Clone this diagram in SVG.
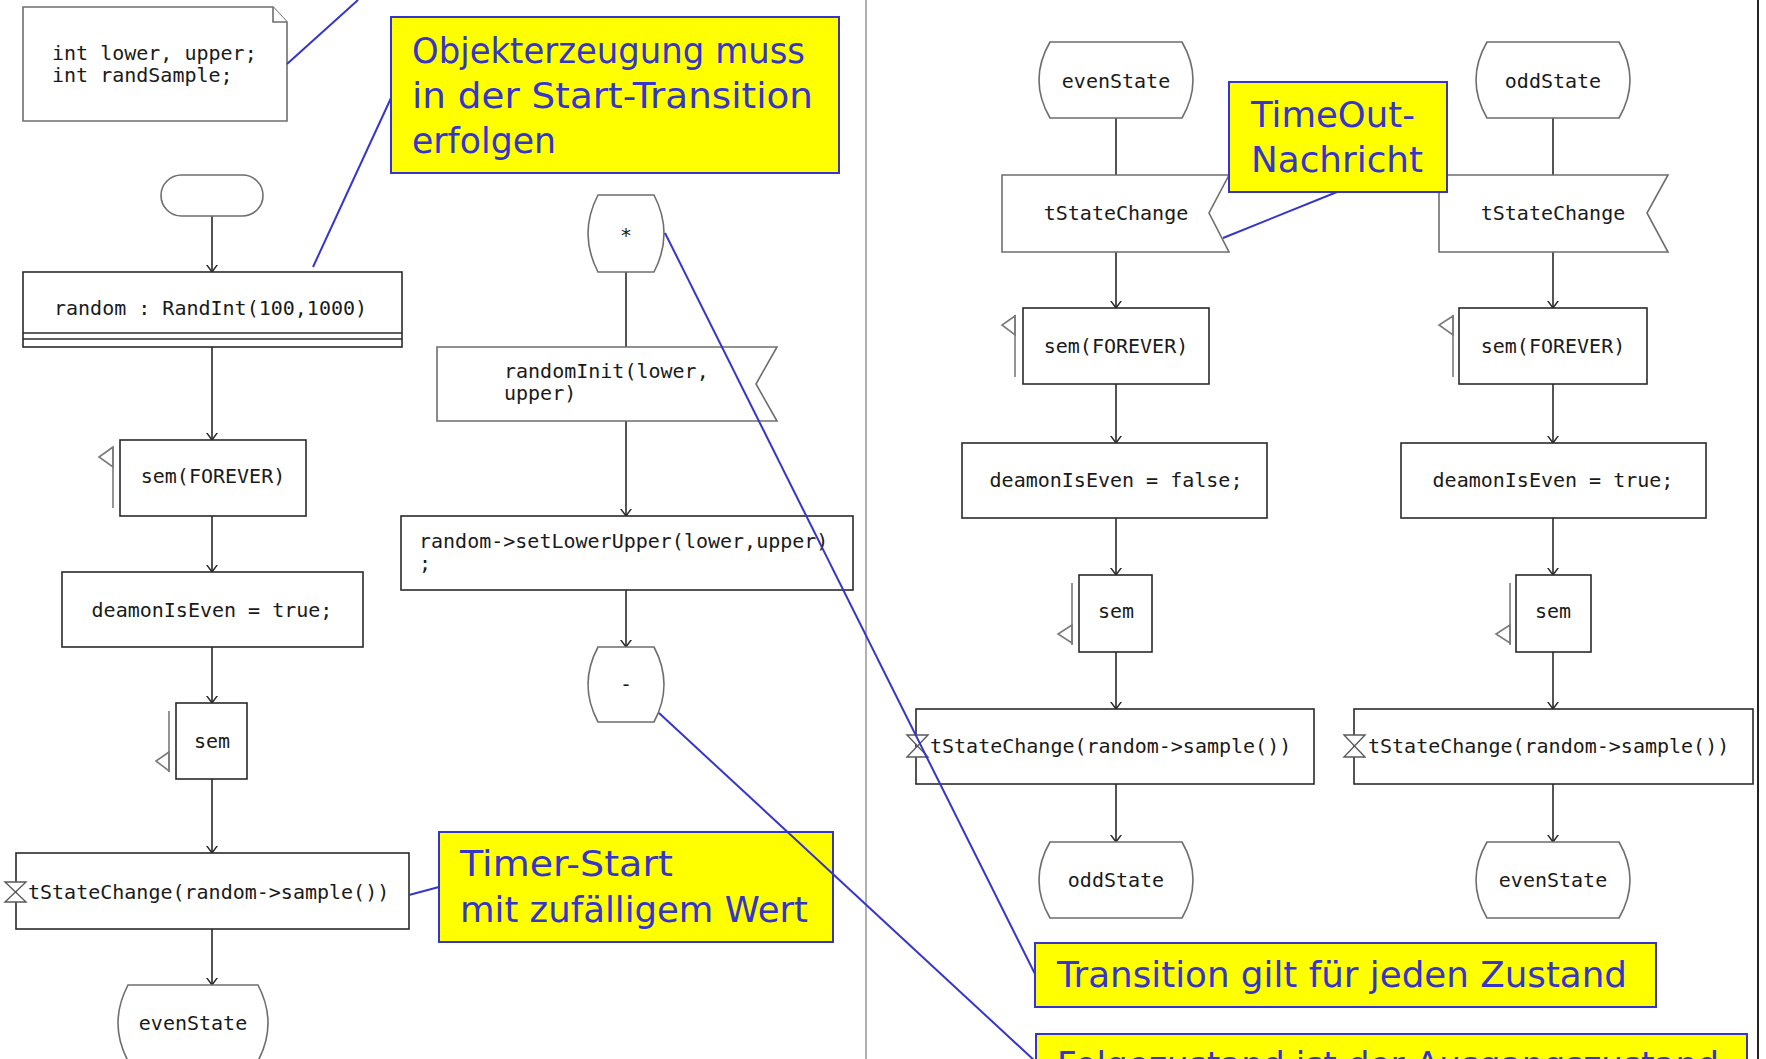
<svg xmlns="http://www.w3.org/2000/svg" width="1766" height="1059" viewBox="0 0 1766 1059">
  <style>
    .code { font-family: "DejaVu Sans Mono", "Liberation Mono", monospace; font-size: 20px; fill: #1a1a1a; }
    .mid { text-anchor: middle; }
    .box { fill: #ffffff; stroke: #2a2a2a; stroke-width: 1.6; }
    .soft { fill: #ffffff; stroke: #6e6e6e; stroke-width: 1.6; }
    .flag { fill: none; stroke: #7a7a7a; stroke-width: 1.6; }
    .flow { fill: none; stroke: #2a2a2a; stroke-width: 1.6; }
    .note { fill: #ffff00; stroke: #3535cc; stroke-width: 2; }
    .noteText { font-family: "DejaVu Sans", "Liberation Sans", sans-serif; font-size: 36px; fill: #3535cc; }
    .link { fill: none; stroke: #3535cc; stroke-width: 2; }
    .hour { fill: #ffffff; stroke: #5a5a5a; stroke-width: 1.4; }
  </style>
  <defs>
    <marker id="open" viewBox="0 0 8 12" refX="7.5" refY="6" markerWidth="8" markerHeight="12" markerUnits="userSpaceOnUse" orient="auto">
      <path d="M0,0.5 L7.5,6 L0,11.5" fill="none" stroke="#2a2a2a" stroke-width="1.5"/>
    </marker>
  </defs>

  <rect x="0" y="0" width="1766" height="1059" fill="#ffffff"/>

  <!-- page frame -->
  <line x1="866" y1="0" x2="866" y2="1059" stroke="#b0b0b0" stroke-width="2"/>
  <line x1="1758" y1="0" x2="1758" y2="1059" stroke="#222222" stroke-width="2"/>

  <!-- flow connectors -->
  <g id="connectors">
    <line class="flow" x1="212" y1="216" x2="212" y2="272" marker-end="url(#open)"/>
    <line class="flow" x1="212" y1="347" x2="212" y2="440" marker-end="url(#open)"/>
    <line class="flow" x1="212" y1="516" x2="212" y2="572" marker-end="url(#open)"/>
    <line class="flow" x1="212" y1="647" x2="212" y2="703" marker-end="url(#open)"/>
    <line class="flow" x1="212" y1="779" x2="212" y2="853" marker-end="url(#open)"/>
    <line class="flow" x1="212" y1="929" x2="212" y2="985" marker-end="url(#open)"/>

    <line class="flow" x1="626" y1="272" x2="626" y2="347"/>
    <line class="flow" x1="626" y1="421" x2="626" y2="516" marker-end="url(#open)"/>
    <line class="flow" x1="626" y1="590" x2="626" y2="647" marker-end="url(#open)"/>

    <line class="flow" x1="1116" y1="118" x2="1116" y2="175"/>
    <line class="flow" x1="1116" y1="252" x2="1116" y2="308" marker-end="url(#open)"/>
    <line class="flow" x1="1116" y1="384" x2="1116" y2="443" marker-end="url(#open)"/>
    <line class="flow" x1="1116" y1="518" x2="1116" y2="575" marker-end="url(#open)"/>
    <line class="flow" x1="1116" y1="652" x2="1116" y2="709" marker-end="url(#open)"/>
    <line class="flow" x1="1116" y1="784" x2="1116" y2="842" marker-end="url(#open)"/>

    <line class="flow" x1="1553" y1="118" x2="1553" y2="175"/>
    <line class="flow" x1="1553" y1="252" x2="1553" y2="308" marker-end="url(#open)"/>
    <line class="flow" x1="1553" y1="384" x2="1553" y2="443" marker-end="url(#open)"/>
    <line class="flow" x1="1553" y1="518" x2="1553" y2="575" marker-end="url(#open)"/>
    <line class="flow" x1="1553" y1="652" x2="1553" y2="709" marker-end="url(#open)"/>
    <line class="flow" x1="1553" y1="784" x2="1553" y2="842" marker-end="url(#open)"/>
  </g>

  <!-- declarations -->
  <g id="decl">
    <path class="soft" d="M23,7 L273,7 L287,22 L287,121 L23,121 Z"/>
    <path class="soft" d="M273,7 L273,22 L287,22" fill="none"/>
    <text class="code" x="52" y="60">int lower, upper;</text>
    <text class="code" x="52" y="82">int randSample;</text>
  </g>

  <!-- start transition -->
  <g id="start">
    <rect class="soft" x="161" y="175" width="102" height="41" rx="20.5"/>
  </g>

  <g id="createRandom">
    <rect class="box" x="23" y="272" width="379" height="75"/>
    <line class="flow" x1="23" y1="333" x2="402" y2="333"/>
    <line class="flow" x1="23" y1="339" x2="402" y2="339"/>
    <text class="code" x="54" y="315">random : RandInt(100,1000)</text>
  </g>

  <g id="semForeverL">
    <rect class="box" x="120" y="440" width="186" height="76"/>
    <line class="flag" x1="113" y1="447" x2="113" y2="508"/>
    <polygon class="flag" points="113,447 99,457 113,467"/>
    <text class="code mid" x="213" y="483">sem(FOREVER)</text>
  </g>

  <g id="setEvenL">
    <rect class="box" x="62" y="572" width="301" height="75"/>
    <text class="code mid" x="212" y="617">deamonIsEven = true;</text>
  </g>

  <g id="semL">
    <rect class="box" x="176" y="703" width="71" height="76"/>
    <line class="flag" x1="169" y1="711" x2="169" y2="772"/>
    <polygon class="flag" points="169,752 156,761 169,771"/>
    <text class="code mid" x="212" y="748">sem</text>
  </g>

  <g id="timerL">
    <rect class="box" x="16" y="853" width="393" height="76"/>
    <polygon class="hour" points="5,882 26,882 5,902 26,902"/>
    <text class="code" x="28" y="899">tStateChange(random-&gt;sample())</text>
  </g>

  <g id="evenStateL">
    <path class="soft" d="M128,985 L258,985 Q278,1023 258,1061 L128,1061 Q108,1023 128,985 Z"/>
    <text class="code mid" x="193" y="1030">evenState</text>
  </g>

  <!-- any-state transition -->
  <g id="anyState">
    <path class="soft" d="M598,195 L654,195 Q674,233.5 654,272 L598,272 Q578,233.5 598,195 Z"/>
    <text class="code mid" x="626" y="242">*</text>
  </g>

  <g id="randomInit">
    <path class="soft" d="M437,347 L777,347 L756,384 L777,421 L437,421 Z"/>
    <text class="code" x="504" y="378">randomInit(lower,</text>
    <text class="code" x="504" y="400">upper)</text>
  </g>

  <g id="setBounds">
    <rect class="box" x="401" y="516" width="452" height="74"/>
    <text class="code" x="419" y="548">random-&gt;setLowerUpper(lower,upper)</text>
    <text class="code" x="419" y="570">;</text>
  </g>

  <g id="sameState">
    <path class="soft" d="M598,647 L654,647 Q674,684.5 654,722 L598,722 Q578,684.5 598,647 Z"/>
    <text class="code mid" x="626" y="691">-</text>
  </g>

  <!-- evenState branch -->
  <g id="evenStateR">
    <path class="soft" d="M1050,42 L1182,42 Q1204,80 1182,118 L1050,118 Q1028,80 1050,42 Z"/>
    <text class="code mid" x="1116" y="88">evenState</text>
  </g>

  <g id="inputR">
    <path class="soft" d="M1002,175 L1229,175 L1209,213 L1229,252 L1002,252 Z"/>
    <text class="code mid" x="1116" y="220">tStateChange</text>
  </g>

  <g id="semForeverR">
    <rect class="box" x="1023" y="308" width="186" height="76"/>
    <line class="flag" x1="1015" y1="315" x2="1015" y2="377"/>
    <polygon class="flag" points="1015,316 1002,325 1015,335"/>
    <text class="code mid" x="1116" y="353">sem(FOREVER)</text>
  </g>

  <g id="setOddR">
    <rect class="box" x="962" y="443" width="305" height="75"/>
    <text class="code mid" x="1116" y="487">deamonIsEven = false;</text>
  </g>

  <g id="semR">
    <rect class="box" x="1079" y="575" width="73" height="77"/>
    <line class="flag" x1="1072" y1="583" x2="1072" y2="645"/>
    <polygon class="flag" points="1072,625 1058,634 1072,643"/>
    <text class="code mid" x="1116" y="618">sem</text>
  </g>

  <g id="timerR">
    <rect class="box" x="916" y="709" width="398" height="75"/>
    <polygon class="hour" points="907,735 928,735 907,757 928,757"/>
    <text class="code" x="930" y="753">tStateChange(random-&gt;sample())</text>
  </g>

  <g id="oddStateR">
    <path class="soft" d="M1050,842 L1182,842 Q1204,880 1182,918 L1050,918 Q1028,880 1050,842 Z"/>
    <text class="code mid" x="1116" y="887">oddState</text>
  </g>

  <!-- oddState branch -->
  <g id="oddStateRR">
    <path class="soft" d="M1487,42 L1619,42 Q1641,80 1619,118 L1487,118 Q1465,80 1487,42 Z"/>
    <text class="code mid" x="1553" y="88">oddState</text>
  </g>

  <g id="inputRR">
    <path class="soft" d="M1439,175 L1668,175 L1647,213 L1668,252 L1439,252 Z"/>
    <text class="code mid" x="1553" y="220">tStateChange</text>
  </g>

  <g id="semForeverRR">
    <rect class="box" x="1459" y="308" width="188" height="76"/>
    <line class="flag" x1="1453" y1="315" x2="1453" y2="377"/>
    <polygon class="flag" points="1453,316 1439,325 1453,335"/>
    <text class="code mid" x="1553" y="353">sem(FOREVER)</text>
  </g>

  <g id="setEvenRR">
    <rect class="box" x="1401" y="443" width="305" height="75"/>
    <text class="code mid" x="1553" y="487">deamonIsEven = true;</text>
  </g>

  <g id="semRR">
    <rect class="box" x="1516" y="575" width="75" height="77"/>
    <line class="flag" x1="1510" y1="583" x2="1510" y2="645"/>
    <polygon class="flag" points="1510,625 1496,634 1510,643"/>
    <text class="code mid" x="1553" y="618">sem</text>
  </g>

  <g id="timerRR">
    <rect class="box" x="1354" y="709" width="399" height="75"/>
    <polygon class="hour" points="1344,735 1365,735 1344,757 1365,757"/>
    <text class="code" x="1368" y="753">tStateChange(random-&gt;sample())</text>
  </g>

  <g id="evenStateRR">
    <path class="soft" d="M1487,842 L1619,842 Q1641,880 1619,918 L1487,918 Q1465,880 1487,842 Z"/>
    <text class="code mid" x="1553" y="887">evenState</text>
  </g>

  <!-- annotations -->
  <g id="noteCreate">
    <rect class="note" x="391" y="17" width="448" height="156"/>
    <text class="noteText" x="412" y="63" textLength="393" lengthAdjust="spacingAndGlyphs">Objekterzeugung muss</text>
    <text class="noteText" x="412" y="108" textLength="401" lengthAdjust="spacingAndGlyphs">in der Start-Transition</text>
    <text class="noteText" x="412" y="153" textLength="144" lengthAdjust="spacingAndGlyphs">erfolgen</text>
  </g>

  <g id="noteTimeout">
    <rect class="note" x="1229" y="82" width="218" height="110"/>
    <text class="noteText" x="1251" y="127" textLength="164" lengthAdjust="spacingAndGlyphs">TimeOut-</text>
    <text class="noteText" x="1251" y="172" textLength="172" lengthAdjust="spacingAndGlyphs">Nachricht</text>
  </g>

  <g id="noteTimer">
    <rect class="note" x="439" y="832" width="394" height="110"/>
    <text class="noteText" x="460" y="876" textLength="213" lengthAdjust="spacingAndGlyphs">Timer-Start</text>
    <text class="noteText" x="460" y="922" textLength="348" lengthAdjust="spacingAndGlyphs">mit zufälligem Wert</text>
  </g>

  <g id="noteAny">
    <rect class="note" x="1035" y="943" width="621" height="64"/>
    <text class="noteText" x="1057" y="987" textLength="570" lengthAdjust="spacingAndGlyphs">Transition gilt für jeden Zustand</text>
  </g>

  <g id="noteSame">
    <rect class="note" x="1036" y="1034" width="711" height="60"/>
    <text class="noteText" x="1057" y="1077" textLength="662" lengthAdjust="spacingAndGlyphs">Folgezustand ist der Ausgangszustand</text>
  </g>

  <!-- annotation links -->
  <g id="comment-links">
    <line class="link" x1="287" y1="64" x2="358" y2="0"/>
    <line class="link" x1="313" y1="267" x2="391" y2="98"/>
    <line class="link" x1="665" y1="233" x2="1035" y2="974"/>
    <line class="link" x1="659" y1="713" x2="1036" y2="1062"/>
    <line class="link" x1="409" y1="895" x2="439" y2="887"/>
    <line class="link" x1="1223" y1="238" x2="1337" y2="192"/>
  </g>
</svg>
